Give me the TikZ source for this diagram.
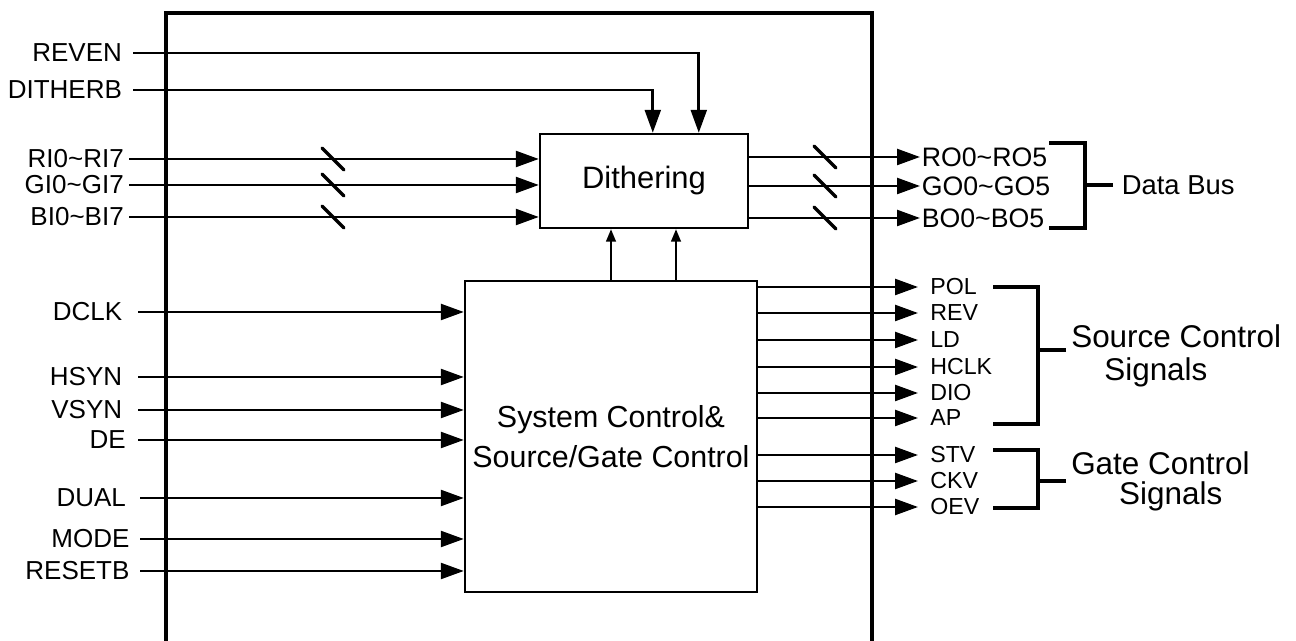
\documentclass[tikz,border=0pt]{standalone}
\usepackage{fontspec}
\setmainfont{Liberation Sans}
\usetikzlibrary{arrows.meta, calc}

\begin{document}
\begin{tikzpicture}[
  x=0.02cm, y=-0.02cm,
  blk/.style={rectangle, draw=black, line width=1.4pt, fill=white, align=center, inner sep=0pt},
  inlbl/.style={anchor=east, inner ysep=0pt, inner xsep=6pt, outer sep=0pt, font=\fontsize{14.8}{16}\selectfont},
  buslbl/.style={anchor=west, inner ysep=0pt, inner xsep=1pt, outer sep=0pt, font=\fontsize{15.2}{16}\selectfont},
  ctllbl/.style={anchor=west, inner ysep=0pt, inner xsep=7pt, outer sep=0pt, font=\fontsize{13.2}{14}\selectfont},
  grplbl/.style={anchor=west, align=left, inner ysep=0pt, inner xsep=3pt, outer sep=0pt, font=\fontsize{17.9}{18.8}\selectfont},
  arr/.style={-{Triangle[length=13pt, width=9pt]}, line width=1.5pt},
  uparr/.style={-{Triangle[length=7pt, width=5.5pt]}, line width=1.1pt},
  brk/.style={line width=2.4pt},
  bus/.style={line width=2pt, line cap=round},
  frame/.style={line width=2.8pt}
]
\useasboundingbox (0,0) rectangle (1296,641);

% Chip outline
\draw[frame] (166,641) -- (166,13) -- (872,13) -- (872,641);

% Blocks
\node[blk, minimum width=4.16cm, minimum height=1.88cm, font=\fontsize{17.6}{19}\selectfont] (dith) at (644,181) {Dithering};
\node[blk, minimum width=5.84cm, minimum height=6.22cm, font=\fontsize{17.3}{22.8}\selectfont] (sys) at (611,436.5) {System Control\&\\Source/Gate Control};

% Dithering control
\node[inlbl, inner xsep=6.3pt] (reven) at (133,53) {REVEN};
\node[inlbl, inner xsep=6.3pt] (ditherb) at (133,90) {DITHERB};
\draw[arr] (reven.east) -| ($(dith.north west)+(160,0)$);
\draw[arr] (ditherb.east) -| ($(dith.north west)+(114,0)$);

% RGB inputs
\node[inlbl, inner xsep=3pt] (ri) at (129,159) {RI0\textasciitilde RI7};
\node[inlbl, inner xsep=3pt] (gi) at (129,185) {GI0\textasciitilde GI7};
\node[inlbl, inner xsep=3pt] (bi) at (129,217) {BI0\textasciitilde BI7};
\foreach \n in {ri,gi,bi}
  \draw[arr] (\n.east) -- (\n.east -| dith.west);
\foreach \yy in {159,185,217}
  \draw[bus] (322,\yy-11) -- (344,\yy+11);

% Timing inputs
\node[inlbl, inner xsep=9pt] (dclk) at (138,312) {DCLK};
\node[inlbl, inner xsep=9pt] (hsyn) at (138,377) {HSYN};
\node[inlbl, inner xsep=9pt] (vsyn) at (138,410) {VSYN};
\node[inlbl, inner xsep=7pt] (de) at (138,440) {DE};
\node[inlbl, inner xsep=8pt] (dual) at (140,498) {DUAL};
\node[inlbl] (mode) at (140,539) {MODE};
\node[inlbl] (resetb) at (140,571) {RESETB};
\foreach \n in {dclk,hsyn,vsyn,de,dual,mode,resetb}
  \draw[arr] (\n.east) -- (\n.east -| sys.west);

% System -> Dithering
\coordinate (sysup) at ($(sys.north)+(65,0)$);
\draw[uparr] (sys.north) -- (sys.north |- dith.south);
\draw[uparr] (sysup) -- (sysup |- dith.south);

% Data bus outputs
\node[buslbl] (ro) at (920,157) {RO0\textasciitilde RO5};
\node[buslbl] (go) at (920,186) {GO0\textasciitilde GO5};
\node[buslbl] (bo) at (920,218) {BO0\textasciitilde BO5};
\foreach \n in {ro,go,bo}
  \draw[arr] (\n.west -| dith.east) -- (\n.west);
\foreach \yy in {157,186,218}
  \draw[bus] (814,\yy-11) -- (836,\yy+11);

\draw[brk] (1049,143) -| (1085,228) -- (1049,228);
\node[grplbl, inner xsep=5pt, font=\fontsize{15.6}{17}\selectfont] (dbus) at (1113,185) {Data Bus};
\draw[brk] (dbus.west) -- ++(-28,0);

% Source / gate control outputs
\foreach \name/\txt/\yy in {pol/POL/287, rev/REV/313, ld/LD/340, hclk/HCLK/367, dio/DIO/393, ap/AP/418, stv/STV/455, ckv/CKV/481, oev/OEV/507} {
  \node[ctllbl] (\name) at (918,\yy) {\txt};
  \draw[arr] (\name.west -| sys.east) -- (\name.west);
}

\draw[brk] (993,287) -| (1038,424) -- (993,424);
\node[grplbl] (srcsig) at (1066,356) {Source Control\\\hspace*{18.8pt}Signals};
\draw[brk] ($(srcsig.west)+(0,-6)$) -- ++(-28,0);

\draw[brk] (993,450) -| (1038,508) -- (993,508);
\node[grplbl, font=\fontsize{17.9}{17}\selectfont] (gatesig) at (1066,481) {Gate Control\\\hspace*{27.3pt}Signals};
\draw[brk] (gatesig.west) -- ++(-28,0);

\end{tikzpicture}
\end{document}
